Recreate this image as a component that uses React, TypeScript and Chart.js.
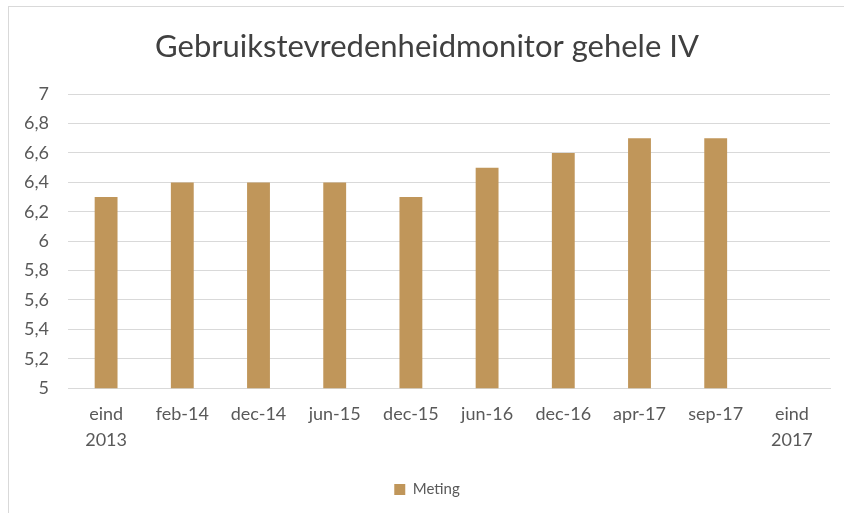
import React, { useEffect, useRef } from "react";
import { Chart, registerables } from "chart.js";

Chart.register(...registerables);

const categories: (string | string[])[] = [
  ["eind", "2013"],
  "feb-14",
  "dec-14",
  "jun-15",
  "dec-15",
  "jun-16",
  "dec-16",
  "apr-17",
  "sep-17",
  ["eind", "2017"],
];
const meting: (number | null)[] = [6.3, 6.4, 6.4, 6.4, 6.3, 6.5, 6.6, 6.7, 6.7, null];
const seriesName = "Meting";
const titleText = "Gebruikstevredenheidmonitor gehele IV";

export default function App() {
  const ref = useRef<HTMLCanvasElement>(null);
  useEffect(() => {
    if (!ref.current) return;
    const chart = new Chart(ref.current, {
      type: "bar",
      data: {
        labels: categories,
        datasets: [
          {
            label: seriesName,
            data: meting,
            backgroundColor: "#c0965a",
            borderWidth: 0,
            barPercentage: 0.6,
            categoryPercentage: 0.5,
          },
        ],
      },
      options: {
        animation: false,
        responsive: false,
        layout: { padding: { left: 24, right: 14, top: 16, bottom: 6 } },
        plugins: {
          title: {
            display: true,
            text: titleText,
            color: "#404040",
            font: { family: "Lato", size: 31, weight: "normal", lineHeight: 1.2 },
            padding: { top: 12, bottom: 29 },
          },
          legend: {
            position: "bottom",
            labels: {
              boxWidth: 11,
              boxHeight: 11,
              color: "#595959",
              font: { family: "Lato", size: 15 },
              padding: 16,
            },
          },
          tooltip: { enabled: false },
        },
        scales: {
          x: {
            grid: { display: false, drawTicks: false },
            border: { display: true, color: "#d9d9d9" },
            ticks: {
              color: "#595959",
              font: { family: "Lato", size: 18, lineHeight: 1.44 },
              maxRotation: 0,
              autoSkip: false,
              padding: 13,
            },
          },
          y: {
            min: 5,
            max: 7,
            grid: { color: "#d9d9d9", drawTicks: false },
            border: { display: false },
            afterFit: (scale: any) => {
              scale.width = 44;
            },
            ticks: {
              stepSize: 0.2,
              color: "#595959",
              font: { family: "Lato", size: 18 },
              padding: 19,
              callback: (v: any) => String(Math.round(Number(v) * 10) / 10).replace(".", ","),
            },
          },
        },
      },
    });
    return () => chart.destroy();
  }, []);
  return (
    <div style={{ position: "fixed", left: 0, top: 0, width: 844, height: 513, background: "#fff" }}>
      <div
        style={{
          position: "absolute",
          left: 8,
          top: 6,
          width: 850,
          height: 520,
          borderTop: "1px solid #d9d9d9",
          borderLeft: "1px solid #d9d9d9",
        }}
      />
      <canvas ref={ref} width={844} height={513} style={{ position: "absolute", left: 0, top: 0 }} />
    </div>
  );
}
